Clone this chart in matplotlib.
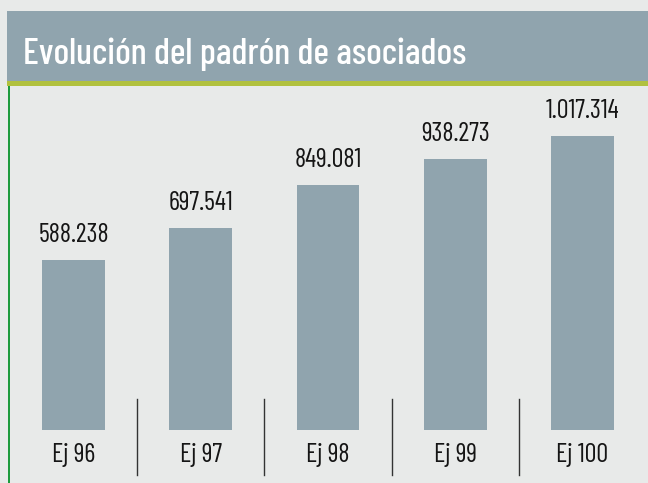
import matplotlib
matplotlib.use("Agg")
import matplotlib.pyplot as plt
from matplotlib.patches import Rectangle

# datos
ejercicios = ["Ej 96", "Ej 97", "Ej 98", "Ej 99", "Ej 100"]
asociados = [588238, 697541, 849081, 938273, 1017314]
titulo = "Evolución del padrón de asociados"

def miles(v):
    return f"{v:,}".replace(",", ".")

fuente = ["Barlow Condensed", "DejaVu Sans"]
W, H = 648, 483

fig = plt.figure(figsize=(W / 100, H / 100), dpi=100)
fig.patch.set_facecolor("#e8eae9")

# cabecera
fig.add_artist(Rectangle((7 / W, 1 - 81 / H), 1 - 7 / W, 70 / H,
                         transform=fig.transFigure, color="#90a4ae", lw=0))
fig.add_artist(Rectangle((7 / W, 1 - 86 / H), 1 - 7 / W, 5 / H,
                         transform=fig.transFigure, color="#b1c13f", lw=0))
fig.add_artist(Rectangle((8 / W, 0), 2 / W, 1 - 86 / H,
                         transform=fig.transFigure, color="#1d9b3d", lw=0))
fig.text(23 / W, 1 - 64 / H, titulo, color="white", fontsize=26.5,
         fontweight="medium", family=fuente, va="baseline", ha="left")

# grafico de barras
ax = fig.add_axes([0, (H - 430) / H, 1, 344 / H])
ax.set_facecolor("none")
x = list(range(len(ejercicios)))
ax.bar(x, asociados, width=0.495, color="#90a4ae")
ax.set_xlim(-0.5776, 4.5147)
ax.set_ylim(0, 344 * 3460.3)
ax.axis("off")

for i, v in enumerate(asociados):
    ax.annotate(miles(v), (i, v), xytext=(0, 13), textcoords="offset points",
                ha="center", va="baseline", fontsize=19, color="#151515",
                family=fuente)

tr = ax.get_xaxis_transform()
for i, e in enumerate(ejercicios):
    ax.text(i, -32 / 344, e, transform=tr, ha="center", va="baseline",
            fontsize=19, color="#151515", family=fuente, clip_on=False)

# separadores
for i in range(len(ejercicios) - 1):
    ax.plot([i + 0.5, i + 0.5], [31 / 344, -45 / 344], transform=tr,
            color="#333333", lw=1, clip_on=False)

fig.savefig("out.png", dpi=100, facecolor=fig.get_facecolor())
